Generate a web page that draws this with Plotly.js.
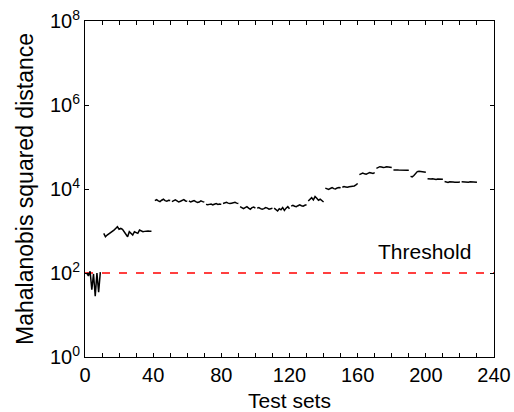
<!DOCTYPE html>
<html>
<head>
<meta charset="utf-8">
<script src="https://cdn.plot.ly/plotly-3.0.1.min.js"></script>
<style>html,body{margin:0;padding:0;background:#fff;}#chart{width:514px;height:412px;}</style>
</head>
<body>
<div id="chart"></div>
<script>
// Test-set groups: first test-set index of each group and its distances
const groupFirstSet = [1, 11, 41, 51, 61, 71, 81, 91, 101, 111, 121, 131, 141, 151, 161, 171, 181, 191, 201, 211, 221];
const groupDistances = [
  [100, 85, 110, 40, 95, 28, 100, 35, 105],
  [880, 730, 800, 850, 900, 960, 1050, 1150, 1260, 1100, 1150, 1100, 960, 850, 730, 960, 880, 800, 960, 900, 880, 1050, 1000, 960, 980, 1000, 1000, 990, 990],
  [5300, 5600, 5200, 5000, 5400, 5700, 5300, 5100, 5400, 5300],
  [5000, 5200, 5500, 5200, 4900, 5100, 5400, 5600, 5200, 5100],
  [5200, 4900, 5100, 5300, 5000, 4800, 4900, 5200, 5000, 4900],
  [4300, 4200, 4300, 4400, 4200, 4400, 4500, 4300, 4400, 4300],
  [4500, 4700, 4800, 4600, 4500, 4600, 4700, 4800, 4600, 4500],
  [3800, 3600, 3400, 3600, 3800, 3500, 3300, 3600, 3700, 3500],
  [3500, 3600, 3400, 3300, 3400, 3600, 3500, 3300, 3400, 3500],
  [3500, 3300, 3000, 3400, 3200, 3600, 3100, 3500, 3800, 3400],
  [3900, 4100, 3900, 3800, 4000, 4200, 4000, 3900, 4100, 4200],
  [5200, 5800, 6200, 5500, 6600, 6000, 5400, 5700, 5200, 4900],
  [10500, 10200, 9800, 10300, 10800, 10200, 10000, 10600, 10900, 10700],
  [11000, 11400, 11200, 11000, 11300, 11500, 11400, 11800, 12500, 13500],
  [22000, 23500, 24000, 23000, 22500, 23500, 24500, 24000, 23500, 24500],
  [31000, 33000, 34000, 33500, 32500, 33000, 34000, 33500, 33000, 32500],
  [28500, 28000, 28500, 28300, 28000, 28200, 28500, 28000, 27800, 28000],
  [20000, 19500, 21000, 24000, 26000, 26500, 26000, 25500, 25500, 25000],
  [17500, 17000, 17200, 17500, 17000, 16800, 17200, 17000, 16900, 17100],
  [15000, 14500, 14300, 14800, 15000, 14600, 14400, 14700, 14500, 14600],
  [14800, 14600, 14900, 14700, 14500, 14800, 14600, 14700, 14500, 14400]
];
const thresholdValue = 100;
const thresholdX = [0, 240];
const yTickVals = [1, 100, 10000, 1000000, 100000000];
const yTickText = ['10<sup>0</sup>', '10<sup>2</sup>', '10<sup>4</sup>', '10<sup>6</sup>', '10<sup>8</sup>'];
const xTickVals = [0, 40, 80, 120, 160, 200, 240];

const xs = [], ys = [];
groupFirstSet.forEach((start, g) => {
  groupDistances[g].forEach((v, i) => { xs.push(start + i); ys.push(v); });
  xs.push(start + groupDistances[g].length - 0.5); ys.push(null);
});

const font = 'Liberation Sans, Arial, Helvetica, sans-serif';
const traces = [
  {x: thresholdX, y: [thresholdValue, thresholdValue], mode: 'lines',
   line: {color: '#ff0000', width: 1.5, dash: '8px,9px'}, hoverinfo: 'skip'},
  {x: xs, y: ys, mode: 'lines', connectgaps: false,
   line: {color: '#000000', width: 1.5}}
];
const layout = {
  width: 514, height: 412,
  margin: {l: 85, r: 20, t: 21, b: 55},
  paper_bgcolor: '#ffffff', plot_bgcolor: '#ffffff',
  showlegend: false,
  font: {family: font, color: '#000', size: 20},
  xaxis: {
    range: [0, 240], tickvals: xTickVals, ticks: 'inside', ticklen: 4, tickwidth: 1,
    tickcolor: '#000', showgrid: false, zeroline: false, showline: true, linecolor: '#000',
    linewidth: 1, mirror: 'ticks',
    minor: {dtick: 10, ticks: 'inside', ticklen: 4, tickcolor: '#000', showgrid: false},
    tickfont: {size: 20, family: font},
    title: {text: 'Test sets', font: {size: 21, family: font}, standoff: 9}
  },
  yaxis: {
    type: 'log', range: [0, 8], tickvals: yTickVals, ticktext: yTickText,
    ticks: 'inside', ticklen: 4, tickwidth: 1, tickcolor: '#000',
    showgrid: false, zeroline: false, showline: true, linecolor: '#000', linewidth: 1,
    mirror: 'ticks', tickfont: {size: 20, family: font},
    title: {text: 'Mahalanobis squared distance', font: {size: 23, family: font}, standoff: 9}
  },
  annotations: [{x: 199, y: 2.51, xref: 'x', yref: 'y', text: 'Threshold', showarrow: false,
    font: {size: 21, family: font, color: '#000'}}]
};
Plotly.newPlot('chart', traces, layout, {displayModeBar: false});
</script>
</body>
</html>
